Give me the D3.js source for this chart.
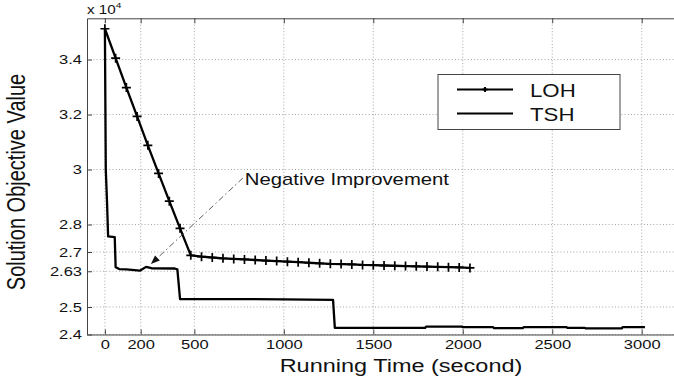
<!DOCTYPE html>
<html><head><meta charset="utf-8">
<script src="https://cdn.jsdelivr.net/npm/d3@7"></script>
<style>
html,body{margin:0;padding:0;background:#fff;}
svg{display:block;font-family:"Liberation Sans",Arial,Helvetica,sans-serif;}
</style>
</head><body>
<svg id="c" width="674" height="382"></svg>
<script>
// ---- data (objective values in units of 10^4) ----
const xTicks = [0, 200, 500, 1000, 1500, 2000, 2500, 3000];
const yTicks = [2.4, 2.5, 2.63, 2.7, 2.8, 3, 3.2, 3.4];
const yTickLabels = ["2.4", "2.5", "2.63", "2.7", "2.8", "3", "3.2", "3.4"];
const seriesNames = ["LOH", "TSH"];

const lohTime = [0, 60, 120, 180, 240, 300, 360, 420, 480, 540, 600, 660, 720, 780, 840, 900,
  960, 1020, 1080, 1140, 1200, 1260, 1320, 1380, 1440, 1500, 1560, 1620, 1680, 1740, 1800,
  1860, 1920, 1980, 2040];
const lohValue = [3.512, 3.405, 3.298, 3.193, 3.088, 2.986, 2.885, 2.786, 2.688,
  2.683, 2.680, 2.677, 2.675, 2.673, 2.671, 2.669, 2.667, 2.665, 2.663, 2.661, 2.659,
  2.657, 2.656, 2.655, 2.653, 2.652, 2.651, 2.650, 2.649, 2.648, 2.647, 2.646, 2.645,
  2.644, 2.642];

const tshTime = [0, 5, 12, 18, 55, 60, 80, 120, 195, 230, 260, 390, 405, 420, 700, 1000,
  1275, 1285, 1790, 1795, 1995, 2000, 2170, 2175, 2335, 2340, 2580, 2585, 2683, 2688,
  2888, 2893, 3018];
const tshValue = [3.512, 3.0, 2.88, 2.757, 2.754, 2.645, 2.638, 2.637, 2.632, 2.646,
  2.641, 2.640, 2.637, 2.529, 2.529, 2.528, 2.526, 2.424, 2.424, 2.429, 2.429, 2.4265,
  2.4265, 2.423, 2.423, 2.4265, 2.4265, 2.424, 2.424, 2.422, 2.422, 2.4265, 2.4265];

const annotText = "Negative Improvement";
const annotTextAt = [782, 2.944];
const annotFrom = [771, 2.969];
const annotTip = [257, 2.656];

// ---- layout ----
const S = 1.27; // horizontal text stretch of the original
const svg = d3.select("#c");
const x = d3.scaleLinear().domain([-100, 3200]).range([87, 677.5]);
const y = d3.scaleLinear().domain([2.4, 3.55]).range([334.5, 18.3]);
const L = 87, R = 677.5, T = 18.3, B = 334.5;

// grid
const grid = svg.append("g").attr("stroke", "#9a9a9a").attr("stroke-width", 0.9)
  .attr("stroke-dasharray", "1,2.2");
grid.selectAll("line.v").data(xTicks).join("line")
  .attr("x1", d => x(d)).attr("x2", d => x(d)).attr("y1", T).attr("y2", B);
grid.selectAll("line.h").data(yTicks).join("line")
  .attr("y1", d => y(d)).attr("y2", d => y(d)).attr("x1", L).attr("x2", R);

// axes
const axB = svg.append("g").attr("transform", `translate(0,${B})`)
  .call(d3.axisBottom(x).tickValues(xTicks).tickSize(-5).tickSizeOuter(0).tickFormat(d => String(d)));
const axT = svg.append("g").attr("transform", `translate(0,${T})`)
  .call(d3.axisTop(x).tickValues(xTicks).tickSize(-5).tickSizeOuter(0).tickFormat(""));
const axL = svg.append("g").attr("transform", `translate(${L},0)`)
  .call(d3.axisLeft(y).tickValues(yTicks).tickSize(-5).tickSizeOuter(0)
    .tickFormat((d, i) => yTickLabels[i]));
[axB, axT, axL].forEach(a => {
  a.select(".domain").attr("stroke", "#444").attr("stroke-width", 1);
  a.selectAll(".tick line").attr("stroke", "#444");
});
axB.selectAll(".tick text").attr("y", 14.5).attr("dy", 0).attr("fill", "#111")
  .style("font-size", "13px").attr("transform", `scale(${S},1)`);
axL.selectAll(".tick text").attr("x", -5 / S).attr("fill", "#111")
  .style("font-size", "13px").attr("transform", `scale(${S},1)`);
axB.attr("font-family", null); axL.attr("font-family", null); axT.attr("font-family", null);

// lines
const lohData = lohTime.map((t, i) => [t, lohValue[i]]);
const tshData = tshTime.map((t, i) => [t, tshValue[i]]);
const line = d3.line().x(d => x(d[0])).y(d => y(d[1]));
svg.append("path").datum(tshData).attr("d", line).attr("fill", "none")
  .attr("stroke", "#000").attr("stroke-width", 2.3).attr("stroke-linejoin", "round");
svg.append("path").datum(lohData).attr("d", line).attr("fill", "none")
  .attr("stroke", "#000").attr("stroke-width", 2.3).attr("stroke-linejoin", "round");
svg.append("g").selectAll("path").data(lohData).join("path")
  .attr("transform", d => `translate(${x(d[0])},${y(d[1])})`)
  .attr("d", "M-4.5,0H4.5M0,-4.5V4.5").attr("stroke", "#000").attr("stroke-width", 1.7);

// annotation
const ax0 = x(annotFrom[0]), ay0 = y(annotFrom[1]);
const ax1 = x(annotTip[0]), ay1 = y(annotTip[1]);
const ang = Math.atan2(ay1 - ay0, ax1 - ax0);
const hl = 9, hw = 3.5;
const bx = ax1 - hl * Math.cos(ang), by = ay1 - hl * Math.sin(ang);
svg.append("line").attr("x1", ax0).attr("y1", ay0).attr("x2", bx).attr("y2", by)
  .attr("stroke", "#333").attr("stroke-width", 0.8).attr("stroke-dasharray", "6,3,1.5,3");
svg.append("path").attr("d",
  `M${ax1},${ay1}L${bx + hw * Math.sin(ang)},${by - hw * Math.cos(ang)}L${bx - hw * Math.sin(ang)},${by + hw * Math.cos(ang)}Z`)
  .attr("fill", "#111");
svg.append("g").attr("transform", `translate(${x(annotTextAt[0])},${y(annotTextAt[1])})`)
  .append("text").attr("transform", `scale(${S},1)`).style("font-size", "16px").attr("fill", "#111")
  .text(annotText);

// legend
const lg = svg.append("g");
lg.append("rect").attr("x", 438).attr("y", 74.5).attr("width", 182).attr("height", 55)
  .attr("fill", "#fff").attr("stroke", "#444").attr("stroke-width", 1);
const legY = [89.5, 113.5];
seriesNames.forEach((n, i) => {
  lg.append("line").attr("x1", 457).attr("x2", 513).attr("y1", legY[i]).attr("y2", legY[i])
    .attr("stroke", "#000").attr("stroke-width", 1.8);
  lg.append("g").attr("transform", `translate(530,${legY[i] + 7})`)
    .append("text").attr("transform", `scale(${S},1)`).style("font-size", "17.5px").attr("fill", "#111")
    .text(n);
});
lg.append("path").attr("transform", `translate(485,${legY[0]})`)
  .attr("d", "M-2.5,0H2.5M0,-2.5V2.5").attr("stroke", "#000").attr("stroke-width", 2);

// axis titles
svg.append("g").attr("transform", `translate(401,372)`)
  .append("text").attr("transform", `scale(${S},1)`).attr("text-anchor", "middle")
  .style("font-size", "18.5px").attr("fill", "#111").text("Running Time (second)");
svg.append("g").attr("transform", `translate(25,182) scale(${S},1) rotate(-90)`)
  .append("text").attr("text-anchor", "middle")
  .style("font-size", "20px").attr("fill", "#111").text("Solution Objective Value");

// exponent label
const ex = svg.append("g").attr("transform", "translate(87,14)")
  .append("text").attr("transform", `scale(${S},1)`).style("font-size", "12px").attr("fill", "#111");
ex.append("tspan").text("x 10");
ex.append("tspan").attr("dy", -6).style("font-size", "8px").text("4");
</script>
</body></html>
